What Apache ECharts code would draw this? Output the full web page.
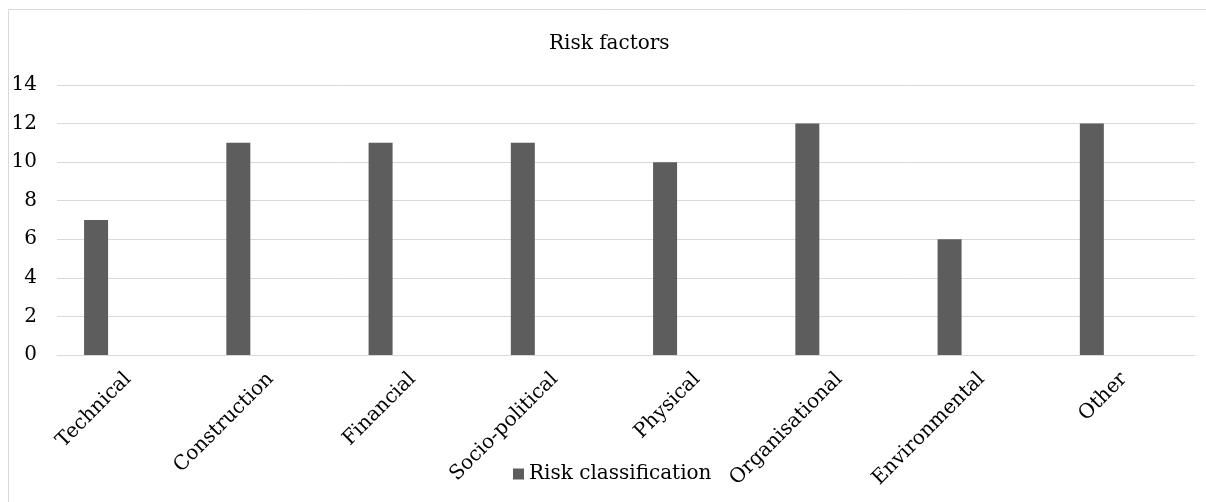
<!DOCTYPE html>
<html>
<head>
<meta charset="utf-8">
<script src="https://cdn.jsdelivr.net/npm/echarts@6/dist/echarts.min.js"></script>
<style>
html,body{margin:0;padding:0;background:#fff;}
#chart{width:1206px;height:502px;}
</style>
</head>
<body>
<div id="chart"></div>
<script>
var categories = ['Technical', 'Construction', 'Financial', 'Socio-political', 'Physical', 'Organisational', 'Environmental', 'Other'];
var riskValues = [7, 11, 11, 11, 10, 12, 6, 12];
var yTicks = [0, 2, 4, 6, 8, 10, 12, 14];
var seriesName = 'Risk classification';
var titleText = 'Risk factors';

var FONT = 'DejaVu Serif';
var chart = echarts.init(document.getElementById('chart'), null, {renderer: 'canvas'});
chart.setOption({
  backgroundColor: '#ffffff',
  animation: false,
  graphic: [{
    type: 'rect',
    shape: {x: 8.5, y: 9.5, width: 1220, height: 520},
    style: {fill: 'none', stroke: '#d9d9d9', lineWidth: 1},
    silent: true
  }],
  title: {
    text: titleText,
    left: 544,
    top: 29,
    textStyle: {fontFamily: FONT, fontSize: 20, fontWeight: 'normal', color: '#000'}
  },
  legend: {
    data: [seriesName],
    left: 508,
    top: 459,
    itemWidth: 11,
    itemHeight: 11,
    itemGap: 10,
    icon: 'rect',
    textStyle: {fontFamily: FONT, fontSize: 20, color: '#000'}
  },
  grid: {left: 57, right: 11, top: 85, bottom: 147, containLabel: false},
  xAxis: {
    type: 'category',
    data: categories,
    axisLine: {show: true, lineStyle: {color: '#d9d9d9', width: 1}},
    axisTick: {show: false},
    axisLabel: {rotate: 45, interval: 0, margin: 21, fontFamily: FONT, fontSize: 20, color: '#000'}
  },
  yAxis: {
    type: 'value',
    min: yTicks[0],
    max: yTicks[yTicks.length - 1],
    interval: 2,
    axisLine: {show: false},
    axisTick: {show: false},
    splitLine: {lineStyle: {color: '#d9d9d9', width: 1}},
    axisLabel: {margin: 20, fontFamily: FONT, fontSize: 20, color: '#000'}
  },
  series: [{
    name: seriesName,
    type: 'bar',
    data: riskValues,
    barWidth: 24,
    barGap: '167%',
    itemStyle: {color: '#5d5d5d'}
  }, {
    name: 'empty',
    type: 'bar',
    data: categories.map(function(){ return null; }),
    barWidth: 24
  }]
});
</script>
</body>
</html>
